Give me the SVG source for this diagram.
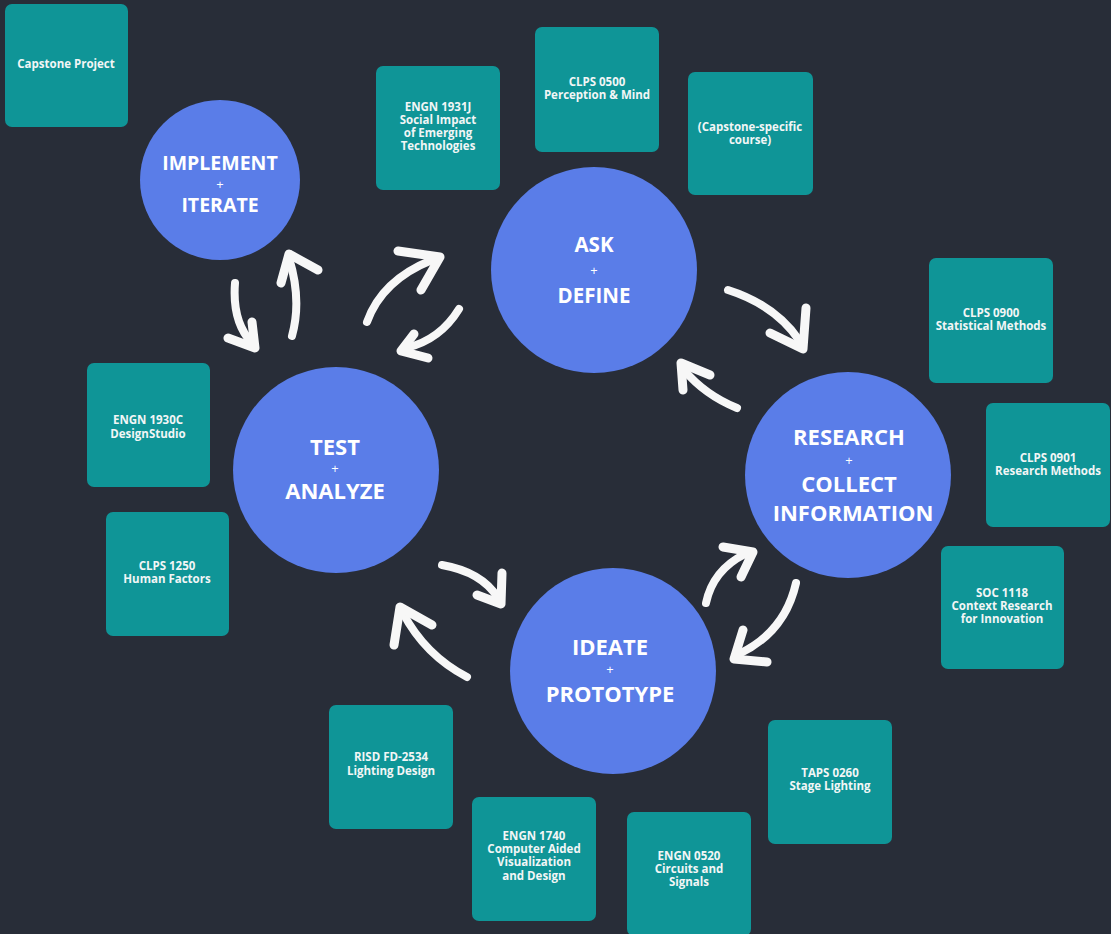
<svg xmlns="http://www.w3.org/2000/svg" width="1111" height="934" viewBox="0 0 1111 934">
<style>
.box{fill:#0f9597}
.bt{font-family:"Open Sans","Liberation Sans",sans-serif;font-weight:700;font-size:11.5px;fill:#f2f6f6;text-anchor:middle}
.circ{fill:#5a7de8}
.ct{font-family:"Open Sans","Liberation Sans",sans-serif;font-weight:700;fill:#ffffff;text-anchor:middle}
.pl{font-family:"Open Sans","Liberation Sans",sans-serif;font-weight:400;font-size:13px;fill:#ffffff;text-anchor:middle}
.ar{fill:none;stroke:#f7f7f7;stroke-width:8;stroke-linecap:round;stroke-linejoin:round}
.ah{fill:none;stroke:#f7f7f7;stroke-width:9;stroke-linecap:round;stroke-linejoin:round}
</style>
<rect width="1111" height="934" fill="#282d38"/>

<g id="capstone-project"><rect class="box" x="5" y="4" width="123" height="123" rx="7"/><text class="bt" x="66" y="68">Capstone Project</text></g>
<g id="engn-1931j"><rect class="box" x="376" y="66" width="124" height="124" rx="7"/><text class="bt" x="438" y="111">ENGN 1931J</text><text class="bt" x="438" y="124">Social Impact</text><text class="bt" x="438" y="137">of Emerging</text><text class="bt" x="438" y="150">Technologies</text></g>
<g id="clps-0500"><rect class="box" x="535" y="27" width="124" height="125" rx="7"/><text class="bt" x="597" y="86">CLPS 0500</text><text class="bt" x="597" y="99">Perception &amp; Mind</text></g>
<g id="capstone-specific"><rect class="box" x="688" y="72" width="125" height="123" rx="7"/><text class="bt" x="750" y="131">(Capstone-specific</text><text class="bt" x="750" y="144">course)</text></g>
<g id="clps-0900"><rect class="box" x="929" y="258" width="124" height="125" rx="7"/><text class="bt" x="991" y="317">CLPS 0900</text><text class="bt" x="991" y="330">Statistical Methods</text></g>
<g id="clps-0901"><rect class="box" x="986" y="403" width="124" height="124" rx="7"/><text class="bt" x="1048" y="462">CLPS 0901</text><text class="bt" x="1048" y="475">Research Methods</text></g>
<g id="soc-1118"><rect class="box" x="941" y="546" width="123" height="123" rx="7"/><text class="bt" x="1002" y="597">SOC 1118</text><text class="bt" x="1002" y="610">Context Research</text><text class="bt" x="1002" y="623">for Innovation</text></g>
<g id="engn-1930c"><rect class="box" x="87" y="363" width="123" height="124" rx="7"/><text class="bt" x="148" y="424">ENGN 1930C</text><text class="bt" x="148" y="438">DesignStudio</text></g>
<g id="clps-1250"><rect class="box" x="106" y="512" width="123" height="124" rx="7"/><text class="bt" x="167" y="570">CLPS 1250</text><text class="bt" x="167" y="583">Human Factors</text></g>
<g id="risd-fd-2534"><rect class="box" x="329" y="705" width="124" height="124" rx="7"/><text class="bt" x="391" y="761">RISD FD-2534</text><text class="bt" x="391" y="775">Lighting Design</text></g>
<g id="engn-1740"><rect class="box" x="472" y="797" width="124" height="124" rx="7"/><text class="bt" x="534" y="840">ENGN 1740</text><text class="bt" x="534" y="853">Computer Aided</text><text class="bt" x="534" y="866">Visualization</text><text class="bt" x="534" y="880">and Design</text></g>
<g id="engn-0520"><rect class="box" x="627" y="812" width="124" height="124" rx="7"/><text class="bt" x="689" y="860">ENGN 0520</text><text class="bt" x="689" y="873">Circuits and</text><text class="bt" x="689" y="886">Signals</text></g>
<g id="taps-0260"><rect class="box" x="768" y="720" width="124" height="124" rx="7"/><text class="bt" x="830" y="777">TAPS 0260</text><text class="bt" x="830" y="790">Stage Lighting</text></g>

<g id="implement-iterate"><circle class="circ" cx="220" cy="180" r="80"/><text class="ct" x="220" y="170" font-size="19.5">IMPLEMENT</text><text class="pl" x="220" y="189" font-size="11">+</text><text class="ct" x="220" y="212" font-size="19.5">ITERATE</text></g>
<g id="ask-define"><circle class="circ" cx="594" cy="270" r="103"/><text class="ct" x="594" y="252" font-size="20.5">ASK</text><text class="pl" x="594" y="275">+</text><text class="ct" x="594" y="303" font-size="20.5">DEFINE</text></g>
<g id="research-collect"><circle class="circ" cx="848" cy="475" r="103"/><text class="ct" x="849" y="445" font-size="22">RESEARCH</text><text class="pl" x="849" y="465">+</text><text class="ct" x="849" y="492" font-size="22">COLLECT</text><text class="ct" x="853" y="521" font-size="22">INFORMATION</text></g>
<g id="test-analyze"><circle class="circ" cx="336" cy="470" r="103"/><text class="ct" x="335" y="455" font-size="22">TEST</text><text class="pl" x="335" y="473">+</text><text class="ct" x="335" y="499" font-size="22">ANALYZE</text></g>
<g id="ideate-prototype"><circle class="circ" cx="613" cy="671" r="103"/><text class="ct" x="610" y="655" font-size="22">IDEATE</text><text class="pl" x="610" y="674">+</text><text class="ct" x="610" y="702" font-size="22">PROTOTYPE</text></g>

<g id="connectors">
<path class="ar" d="M235,283 Q232,322 252,343"/><path class="ah" d="M228,338 L255,348 L252,322"/>
<path class="ar" d="M292,336 Q302,300 289,258"/><path class="ah" d="M281,283 L289,254 L318,270"/>
<path class="ar" d="M367,322 Q382,280 432,260"/><path class="ah" d="M398,251 L440,257 L421,290"/>
<path class="ar" d="M459,309 Q440,340 406,348"/><path class="ah" d="M414,334 L401,351 L428,358"/>
<path class="ar" d="M728,290 Q775,305 799,340"/><path class="ah" d="M770,333 L803,349 L806,308"/>
<path class="ar" d="M737,408 Q705,395 684,370"/><path class="ah" d="M710,375 L681,363 L683,390"/>
<path class="ar" d="M706,603 Q713,570 745,554"/><path class="ah" d="M723,547 L753,552 L741,577"/>
<path class="ar" d="M796,583 Q785,632 739,654"/><path class="ah" d="M743,630 L734,659 L767,662"/>
<path class="ar" d="M442,565 Q482,572 498,598"/><path class="ah" d="M477,595 L501,604 L502,573"/>
<path class="ar" d="M467,677 Q425,655 403,613"/><path class="ah" d="M432,625 L400,607 L394,645"/>
</g>
</svg>
